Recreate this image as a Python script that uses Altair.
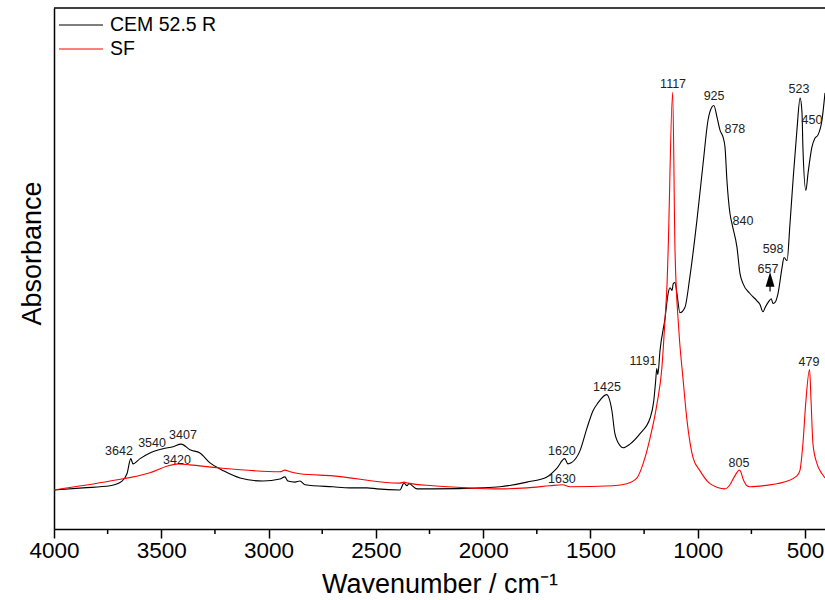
import altair as alt
import pandas as pd

FONT = "Liberation Sans"

series_names = ["CEM 52.5 R", "SF"]
series_colors = ["#000000", "#ff0000"]

# FTIR spectrum of the cement (wavenumber in cm-1, absorbance in a.u.)
cem_wn = [4000, 3865, 3739, 3683, 3660, 3642, 3632, 3599, 3553, 3492, 3445, 3407,
          3366, 3320, 3273, 3226, 3212, 3133, 3026, 2947, 2924, 2910, 2877, 2854,
          2830, 2700, 2621, 2541, 2495, 2388, 2369, 2355, 2346, 2308, 2234, 2001,
          1922, 1796, 1703, 1656, 1620, 1605, 1590, 1549, 1516, 1488, 1465, 1425,
          1400, 1386, 1362, 1348, 1316, 1269, 1222, 1205, 1196, 1191, 1186, 1176,
          1152, 1138, 1129, 1120, 1114, 1106, 1097, 1083, 1060, 1037, 1004, 975,
          952, 934, 925, 910, 896, 882, 873, 864, 850, 840, 817, 803, 789, 757,
          724, 710, 696, 686, 672, 657, 650, 640, 626, 607, 598, 584, 570, 556,
          538, 523, 514, 510, 496, 486, 468, 454, 440, 421, 407]
cem_abs = [0.075, 0.079, 0.083, 0.092, 0.106, 0.135, 0.125, 0.135, 0.146, 0.154, 0.158, 0.163,
           0.152, 0.146, 0.127, 0.115, 0.112, 0.098, 0.092, 0.096, 0.100, 0.092, 0.090, 0.092,
           0.085, 0.081, 0.079, 0.079, 0.077, 0.075, 0.088, 0.083, 0.087, 0.077, 0.077, 0.079,
           0.081, 0.090, 0.100, 0.117, 0.135, 0.125, 0.127, 0.150, 0.194, 0.227, 0.242, 0.258,
           0.227, 0.183, 0.160, 0.156, 0.163, 0.183, 0.213, 0.246, 0.285, 0.308, 0.296, 0.342,
           0.406, 0.452, 0.463, 0.458, 0.471, 0.473, 0.452, 0.415, 0.425, 0.483, 0.592, 0.702,
           0.785, 0.810, 0.813, 0.790, 0.765, 0.752, 0.733, 0.669, 0.606, 0.585, 0.540, 0.490,
           0.471, 0.452, 0.438, 0.431, 0.417, 0.425, 0.435, 0.442, 0.433, 0.435, 0.452, 0.502,
           0.521, 0.515, 0.587, 0.669, 0.765, 0.827, 0.798, 0.733, 0.650, 0.683, 0.733, 0.750,
           0.756, 0.785, 0.837]

# FTIR spectrum of the silica fume
sf_wn = [4000, 3739, 3553, 3470, 3420, 3366, 3226, 2947, 2924, 2900, 2854, 2700,
         2388, 2369, 2350, 2234, 2075, 1922, 1796, 1689, 1630, 1595, 1395, 1330,
         1283, 1255, 1222, 1190, 1167, 1152, 1143, 1138, 1117, 1106, 1088, 1069,
         1050, 1022, 990, 943, 873, 850, 830, 805, 785, 771, 757, 631, 617, 538,
         524, 510, 496, 479, 472, 463, 444, 421, 407]
sf_abs = [0.075, 0.092, 0.108, 0.121, 0.125, 0.123, 0.117, 0.110, 0.113, 0.110, 0.106, 0.102,
          0.088, 0.090, 0.088, 0.083, 0.079, 0.077, 0.079, 0.083, 0.085, 0.081, 0.083, 0.087,
          0.098, 0.125, 0.175, 0.240, 0.310, 0.406, 0.471, 0.535, 0.838, 0.535, 0.381, 0.290,
          0.208, 0.137, 0.112, 0.087, 0.077, 0.085, 0.100, 0.113, 0.092, 0.083, 0.081, 0.087,
          0.088, 0.102, 0.112, 0.163, 0.246, 0.306, 0.246, 0.163, 0.125, 0.106, 0.098]

# Band assignments written next to the peaks
peak_text = ["3642", "3540", "3407", "3420", "1620", "1630", "1425", "1191", "1117",
             "925", "878", "840", "805", "657", "598", "523", "479", "450"]
peak_wn = [3697, 3543, 3399, 3427, 1633, 1633, 1423, 1255, 1115,
           924, 827, 789, 808, 673, 649, 528, 482, 468]
peak_abs = [0.150, 0.165, 0.181, 0.133, 0.150, 0.096, 0.273, 0.323, 0.854,
            0.831, 0.767, 0.592, 0.127, 0.500, 0.538, 0.844, 0.321, 0.785]

# Arrow pointing at the weak 657 band
arrow_wn = [663]
arrow_from = [0.456]
arrow_to = [0.472]
arrow_head = [0.479]

major_ticks = [4000, 3500, 3000, 2500, 2000, 1500, 1000, 500]
minor_ticks = [3750, 3250, 2750, 2250, 1750, 1250, 750]

W, H = 771, 521

spectra = pd.concat([
    pd.DataFrame({"wn": cem_wn, "abs": cem_abs, "series": series_names[0]}),
    pd.DataFrame({"wn": sf_wn, "abs": sf_abs, "series": series_names[1]}),
])
labels = pd.DataFrame({"wn": peak_wn, "abs": peak_abs, "text": peak_text})
arrow = pd.DataFrame({"wn": arrow_wn, "y0": arrow_from, "y1": arrow_to, "head": arrow_head})
minor = pd.DataFrame({"wn": minor_ticks})

x_scale = alt.Scale(domain=[4000, 407], nice=False, zero=False)
y_scale = alt.Scale(domain=[0, 1], nice=False, zero=False)

x_axis = alt.Axis(
    values=major_ticks, format="d", grid=False, labelFlush=False, labelOverlap=False,
    title="Wavenumber / cm⁻¹", titleFont=FONT, titleFontSize=27, titleFontWeight="normal",
    titleColor="#000", titleBaseline="alphabetic", titleY=63,
    labelFont=FONT, labelFontSize=22.5, labelColor="#000", labelPadding=1,
    tickSize=9, tickWidth=1.5, tickColor="#000",
    domainColor="#000", domainWidth=1.5,
)
y_axis = alt.Axis(
    grid=False, ticks=False, labels=False,
    title="Absorbance", titleFont=FONT, titleFontSize=27, titleFontWeight="normal",
    titleColor="#000", titleBaseline="alphabetic", titleAngle=-90,
    titleX=-14, titleY=245, titleAlign="center",
    domainColor="#000", domainWidth=1.5,
)

lines = alt.Chart(spectra).mark_line(strokeWidth=1.1, interpolate="monotone").encode(
    x=alt.X("wn:Q", scale=x_scale, axis=x_axis),
    y=alt.Y("abs:Q", scale=y_scale, axis=y_axis),
    color=alt.Color("series:N", scale=alt.Scale(domain=series_names, range=series_colors), legend=None),
    detail="series:N",
)

peak_labels = alt.Chart(labels).mark_text(
    font=FONT, fontSize=12.5, color="#222", align="center", baseline="middle"
).encode(x=alt.X("wn:Q", scale=x_scale), y=alt.Y("abs:Q", scale=y_scale), text="text:N")

arrow_stem = alt.Chart(arrow).mark_rule(color="#000", strokeWidth=1.2).encode(
    x=alt.X("wn:Q", scale=x_scale), y=alt.Y("y0:Q", scale=y_scale), y2="y1:Q"
)
arrow_tip = alt.Chart(arrow).mark_point(
    shape="M-0.6,1L0,-1L0.6,1Z", size=220, filled=True, color="#000", opacity=1
).encode(x=alt.X("wn:Q", scale=x_scale), y=alt.Y("head:Q", scale=y_scale))

minor_ticks_layer = alt.Chart(minor).mark_rule(color="#000", strokeWidth=1.5).encode(
    x=alt.X("wn:Q", scale=x_scale), y=alt.value(H), y2=alt.value(H + 5)
)

top_frame = alt.Chart(pd.DataFrame({"k": [0]})).mark_rule(color="#000", strokeWidth=1.5).encode(
    x=alt.value(0), x2=alt.value(W), y=alt.value(0)
)

# Legend drawn as short line samples with their series names
legend_layers = []
for i, (name, col) in enumerate(zip(series_names, series_colors)):
    row = pd.DataFrame({"series": [name]})
    yy = 17 + 24 * i
    legend_layers.append(
        alt.Chart(row).mark_rule(color=col, strokeWidth=1.1).encode(
            x=alt.value(5), x2=alt.value(49), y=alt.value(yy)
        )
    )
    legend_layers.append(
        alt.Chart(row).mark_text(
            font=FONT, fontSize=19.5, color="#000", align="left", baseline="middle"
        ).encode(x=alt.value(56), y=alt.value(yy), text="series:N")
    )

chart = alt.layer(
    lines, peak_labels, arrow_stem, arrow_tip, minor_ticks_layer, top_frame, *legend_layers
).properties(
    width=W, height=H,
    padding={"left": 54, "top": 8, "right": 0, "bottom": 71},
    autosize=alt.AutoSizeParams(type="none"),
    background="white",
).configure_view(stroke=None)

chart.save("out.html", embed_options={"renderer": "svg", "actions": False})
